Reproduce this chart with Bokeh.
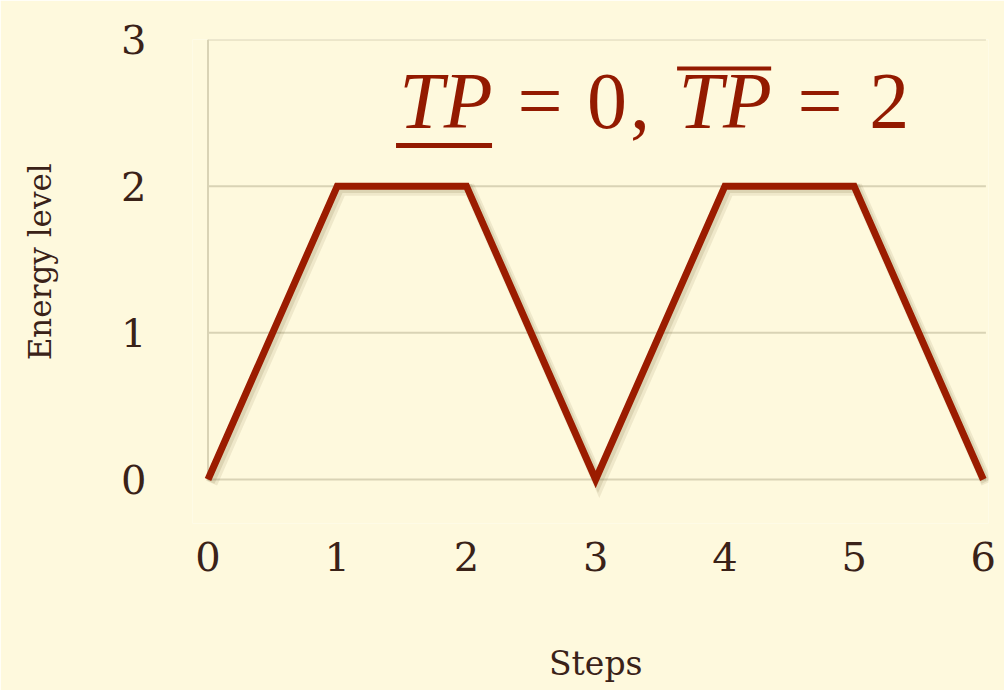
from bokeh.plotting import figure
from bokeh.models import ColumnDataSource, FixedTicker, Label
from bokeh.transform import dodge
from bokeh.embed import file_html
from bokeh.resources import INLINE

# Energy profile over the steps
steps = [0, 1, 2, 3, 4, 5, 6]
energy = [0, 2, 2, 0, 2, 2, 0]
x_ticks = [0, 1, 2, 3, 4, 5, 6]
y_ticks = [0, 1, 2, 3]
tp_lower = 0
tp_upper = 2

BG = "#FEF9DD"
GRID = "#D9D3B5"
LINE = "#9B1C00"
TEXT = "#3A2218"
TITLE = "#931A00"

X_MAX = max(steps)
Y_MAX = max(y_ticks)
NBSP = "\u00a0"

p = figure(width=1004, height=690, output_backend="svg", toolbar_location=None,
           x_range=(-0.12, 6.04), y_range=(-0.3, 3.0),
           min_border_left=192, min_border_right=16,
           min_border_top=39, min_border_bottom=167)
p.background_fill_color = BG
p.border_fill_color = BG
p.outline_line_color = None
p.grid.visible = False

# horizontal guide lines and the left edge line of the data area
p.segment(x0=0, x1=X_MAX + 0.02, y0=y_ticks, y1=y_ticks,
          line_color=GRID, line_width=2)
p.segment(x0=0, x1=0, y0=0, y1=Y_MAX, line_color=GRID, line_width=2)

src = ColumnDataSource(dict(x=steps, y=energy))

# soft drop shadow under the trace
p.line(x=dodge("x", 0.028), y=dodge("y", -0.025), source=src,
       line_width=12, line_color="#6b5a2a", line_alpha=0.10, line_join="miter")
p.line(x=dodge("x", 0.018), y=dodge("y", -0.016), source=src,
       line_width=9, line_color="#6b5a2a", line_alpha=0.14, line_join="miter")
p.line(x="x", y="y", source=src, line_width=7, line_color=LINE, line_join="miter")

tick_font = "DejaVu Serif"
for ax in (p.xaxis[0], p.yaxis[0]):
    ax.axis_line_color = None
    ax.major_tick_line_color = None
    ax.minor_tick_line_color = None
    ax.major_label_text_font = tick_font
    ax.major_label_text_font_size = "40px"
    ax.major_label_text_color = TEXT
    ax.axis_label_text_font = tick_font
    ax.axis_label_text_font_style = "normal"
    ax.axis_label_text_color = TEXT

p.xaxis.ticker = FixedTicker(ticks=x_ticks)
p.yaxis.ticker = FixedTicker(ticks=y_ticks)
# leading no-break spaces nudge the centred titles toward the 0..3 / 0..6 span
p.xaxis.axis_label = NBSP + "Steps"
p.yaxis.axis_label = NBSP * 4 + "Energy level"
p.xaxis.axis_label_text_font_size = "33px"
p.yaxis.axis_label_text_font_size = "31px"
p.xaxis.major_label_standoff = 12
p.xaxis.axis_label_standoff = 70
p.yaxis.major_label_standoff = 40
p.yaxis.axis_label_standoff = 60

# formula label: TP = 0, TP = 2 with under/over bars
base_y = 2.58
pieces = [
    (1.842, "TP", "italic"),
    (2.570, "=", "normal"),
    (3.088, str(tp_lower), "normal"),
    (3.344, ",", "normal"),
    (4.002, "TP", "italic"),
    (4.737, "=", "normal"),
    (5.271, str(tp_upper), "normal"),
]
for x, txt, style in pieces:
    p.add_layout(Label(x=x, y=base_y, text=txt, text_font="Liberation Serif",
                       text_font_style=style, text_font_size="80px",
                       text_color=TITLE, text_baseline="alphabetic", text_align="center"))

p.segment(x0=[1.455, 3.630], y0=[2.277, 2.802], x1=[2.198, 4.358], y1=[2.277, 2.802],
          line_color=TITLE, line_width=[5, 4])

open("out.html", "w").write(file_html(p, INLINE))
